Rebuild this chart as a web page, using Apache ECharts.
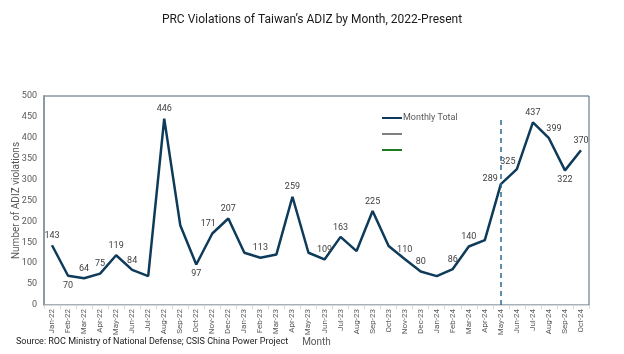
<!DOCTYPE html>
<html>
<head>
<meta charset="utf-8">
<script src="https://cdn.jsdelivr.net/npm/echarts@6/dist/echarts.min.js"></script>
<style>
  html, body { margin: 0; padding: 0; background: #fff; }
  #chart { width: 624px; height: 354px; }
</style>
</head>
<body>
<div id="chart"></div>
<script>
// Month categories Jan-22 .. Oct-24
const months = [
  "Jan-22", "Feb-22", "Mar-22", "Apr-22", "May-22", "Jun-22", "Jul-22", "Aug-22", "Sep-22", "Oct-22", "Nov-22", "Dec-22",
  "Jan-23", "Feb-23", "Mar-23", "Apr-23", "May-23", "Jun-23", "Jul-23", "Aug-23", "Sep-23", "Oct-23", "Nov-23", "Dec-23",
  "Jan-24", "Feb-24", "Mar-24", "Apr-24", "May-24", "Jun-24", "Jul-24", "Aug-24", "Sep-24", "Oct-24"
];
const monthlyTotal = [
  143, 70, 64, 75, 119, 84, 69, 446, 191, 97, 171, 207,
  125, 113, 121, 259, 125, 109, 163, 129, 225, 141, 110, 80,
  69, 86, 140, 155, 289, 325, 437, 399, 322, 370
];
// where each data label sits (null = no label)
const labelPos = [
  "top", "bottom", "top", "top", "top", "top", null, "top", null, "bottom", "top", "top",
  null, "top", null, "top", null, "top", "top", null, "top", null, "top", "top",
  null, "top", "top", null, "left", "top", "top", "top", "bottom", "top"
];
const yTicks = { min: 0, max: 500, interval: 50 };
const cutoffMonth = "May-24";
const cutoffTop = 445;

const chart = echarts.init(document.getElementById("chart"));

const font = "Roboto, sans-serif";

// Build point data with per-point label settings
const points = monthlyTotal.map((v, i) => {
  const pos = labelPos[i];
  if (!pos) return { value: v, label: { show: false } };
  const lbl = { show: true, position: pos, distance: 5 };
  if (months[i] === "Jun-24") lbl.offset = [-9, 2];
  if (months[i] === "May-24") lbl.offset = [2, -5];
  if (months[i] === "Nov-22") lbl.offset = [-4, 0];
  if (months[i] === "Aug-24") lbl.offset = [5, 0];
  return { value: v, label: lbl };
});

const options = {
  animation: false,
  textStyle: { fontFamily: font },
  title: {
    text: "PRC Violations of Taiwan\u2019s ADIZ by Month, 2022-Present",
    left: "center",
    top: 9,
    textStyle: { fontSize: 12, fontWeight: "normal", color: "#1a1a1a", fontFamily: font }
  },
  legend: {
    orient: "vertical",
    left: 382,
    top: 112,
    padding: 0,
    itemWidth: 20,
    itemHeight: 2,
    itemGap: 4,
    icon: "rect",
    textStyle: { fontSize: 9, color: "#595959", lineHeight: 12, padding: [0, 0, 0, -4] },
    data: ["Monthly Total", " ", "  "]
  },
  grid: {
    left: 44, right: 35, top: 96, bottom: 49,
    outerBoundsMode: "none",
    containLabel: false,
    show: true,
    borderColor: "#4A6478",
    borderWidth: 1
  },
  xAxis: {
    type: "category",
    data: months,
    name: "Month",
    nameLocation: "middle",
    nameGap: 32,
    nameMoveOverlap: false,
    nameTextStyle: { fontSize: 10, color: "#595959" },
    axisLine: { lineStyle: { color: "#D9D9D9" } },
    axisTick: { show: true, length: 4, lineStyle: { color: "#D9D9D9" } },
    axisLabel: { rotate: 90, fontSize: 8, color: "#595959", margin: 4 }
  },
  yAxis: {
    type: "value",
    min: yTicks.min,
    max: yTicks.max,
    interval: yTicks.interval,
    name: "Number of ADIZ violations",
    nameLocation: "middle",
    nameGap: 23,
    nameMoveOverlap: false,
    nameTextStyle: { fontSize: 10, color: "#595959" },
    axisLine: { show: true, lineStyle: { color: "#8A9BA8", width: 2 } },
    axisTick: { show: false },
    splitLine: { show: false },
    axisLabel: { fontSize: 9, color: "#595959", margin: 7 }
  },
  series: [
    {
      name: "Monthly Total",
      type: "line",
      data: points,
      symbol: "circle",
      symbolSize: 0.1,
      showSymbol: true,
      showAllSymbol: true,
      color: "#0E3B5A",
      lineStyle: { width: 2.5, color: "#0E3B5A" },
      label: { fontSize: 9, color: "#404040" },
      markLine: {
        silent: true,
        symbol: "none",
        label: { show: false },
        lineStyle: { type: [5, 4], width: 1.5, color: "#2B6A94" },
        data: [[{ coord: [cutoffMonth, 0] }, { coord: [cutoffMonth, cutoffTop] }]]
      }
    },
    { name: " ", type: "line", data: [], color: "#808080", lineStyle: { color: "#808080" } },
    { name: "  ", type: "line", data: [], color: "#1E7B1E", lineStyle: { color: "#1E7B1E" } }
  ],
  graphic: [
    {
      type: "text",
      left: 16,
      top: 337,
      style: {
        text: "Source: ROC Ministry of National Defense; CSIS China Power Project",
        fontSize: 9,
        fill: "#1a1a1a",
        fontFamily: font
      }
    }
  ]
};

chart.setOption(options);
</script>
</body>
</html>
